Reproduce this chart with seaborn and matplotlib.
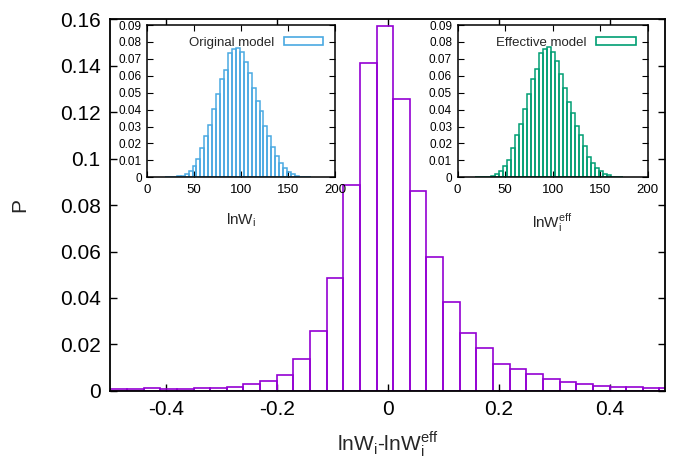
import numpy as np
import pandas as pd
import matplotlib
matplotlib.use("Agg")
import matplotlib.pyplot as plt
from matplotlib.patches import Patch
from matplotlib.ticker import FuncFormatter
import seaborn as sns

# main histogram: lnW_i - lnW_i^eff, bins of width 0.03 from -0.5
diff_edges = np.linspace(-0.5, 0.52, 35)
diff_p = [0.0007, 0.0007, 0.0010, 0.0007, 0.0009, 0.0010, 0.0013, 0.0017, 0.0029, 0.0040,
          0.0069, 0.0135, 0.0257, 0.0484, 0.0885, 0.1411, 0.1570, 0.1257, 0.0860, 0.0575,
          0.0382, 0.0250, 0.0184, 0.0116, 0.0092, 0.0071, 0.0050, 0.0039, 0.0028, 0.0021,
          0.0018, 0.0015, 0.0014, 0.0011]

# insets: lnW_i and lnW_i^eff
lnw_edges = np.linspace(18.8, 174.2, 38)
orig_p = [0.0001, 0.0002, 0.0004, 0.0005, 0.0008, 0.0022, 0.0038, 0.0069, 0.0109, 0.0174,
          0.0246, 0.0311, 0.0404, 0.0491, 0.0582, 0.0634, 0.0737, 0.0756, 0.0762, 0.0740,
          0.0679, 0.0619, 0.0526, 0.0452, 0.0393, 0.0302, 0.0242, 0.0179, 0.0125, 0.0083,
          0.0056, 0.0030, 0.0020, 0.0010, 0.0004, 0.0002, 0.0001]
eff_p = [0.0001, 0.0001, 0.0002, 0.0004, 0.0010, 0.0022, 0.0038, 0.0069, 0.0105, 0.0175,
         0.0248, 0.0313, 0.0401, 0.0492, 0.0579, 0.0641, 0.0734, 0.0758, 0.0770, 0.0740,
         0.0685, 0.0611, 0.0526, 0.0446, 0.0381, 0.0302, 0.0248, 0.0183, 0.0123, 0.0083,
         0.0058, 0.0036, 0.0020, 0.0012, 0.0004, 0.0002, 0.0001]

main_xticks = [-0.4, -0.2, 0, 0.2, 0.4]
main_yticks = [0, 0.02, 0.04, 0.06, 0.08, 0.1, 0.12, 0.14, 0.16]
inset_xticks = [0, 50, 100, 150, 200]
inset_yticks = [0, 0.01, 0.02, 0.03, 0.04, 0.05, 0.06, 0.07, 0.08, 0.09]

PURPLE = '#9400d3'
BLUE = '#4aa9e2'
GREEN = '#009e73'


def hist_frame(edges, values):
    mids = (edges[:-1] + edges[1:]) / 2
    return pd.DataFrame({'x': mids, 'p': values})


sns.set_style("ticks")
plt.rcParams['font.family'] = ['Liberation Sans', 'DejaVu Sans']
plt.rcParams['axes.unicode_minus'] = False
plt.rcParams['mathtext.fontset'] = 'custom'
plt.rcParams['mathtext.rm'] = 'Liberation Sans'

fmt = FuncFormatter(lambda v, p: f'{v:g}')

fig = plt.figure(figsize=(6.81, 4.63), dpi=100)

# main panel
ax = fig.add_axes([0.162, 0.156, 0.8145, 0.802])
sns.histplot(data=hist_frame(diff_edges, diff_p), x='x', weights='p',
             bins=list(diff_edges), fill=False, color=PURPLE, linewidth=1.2, ax=ax)
ax.set_xlim(-0.5, 0.5)
ax.set_ylim(0, 0.16)
ax.set_xticks(main_xticks)
ax.set_yticks(main_yticks)
ax.xaxis.set_major_formatter(fmt)
ax.yaxis.set_major_formatter(fmt)
ax.tick_params(direction='in', top=True, right=True, length=5, width=1,
               labelsize=15, pad=7, colors='black')
for s in ax.spines.values():
    s.set_visible(True)
    s.set_linewidth(1.3)
    s.set_color('black')
ax.set_xlabel('lnW$_\\mathregular{i}$-lnW$_\\mathregular{i}^\\mathregular{eff}$',
              fontsize=15, labelpad=7)
ax.set_ylabel('P', fontsize=15, labelpad=22)


def inset(rect, values, color, label, xlabel):
    a = fig.add_axes(rect)
    a.set_facecolor('white')
    sns.histplot(data=hist_frame(lnw_edges, values), x='x', weights='p',
                 bins=list(lnw_edges), fill=False, color=color, linewidth=1.1, ax=a)
    a.set_xlim(0, 200)
    a.set_ylim(0, 0.09)
    a.set_xticks(inset_xticks)
    a.set_yticks(inset_yticks)
    a.xaxis.set_major_formatter(fmt)
    a.yaxis.set_major_formatter(fmt)
    a.tick_params(direction='in', top=True, right=True, length=4, width=0.8,
                  labelsize=9.5, pad=5, colors='black')
    a.tick_params(axis='y', labelsize=8.5, pad=4)
    for s in a.spines.values():
        s.set_visible(True)
        s.set_linewidth(1.1)
        s.set_color('black')
    a.set_xlabel(xlabel, fontsize=11, labelpad=11)
    a.set_ylabel('')
    handle = Patch(facecolor='none', edgecolor=color, linewidth=1.2, label=label)
    a.legend(handles=[handle], loc='upper right', markerfirst=False, frameon=False,
             fontsize=9.5, handlelength=3.0, handleheight=0.55, handletextpad=0.7,
             borderaxespad=0.7, borderpad=0.2)
    return a


inset([0.2163, 0.617, 0.2756, 0.329], orig_p, BLUE, 'Original model',
      'lnW$_\\mathregular{i}$')
inset([0.672, 0.617, 0.279, 0.329], eff_p, GREEN, 'Effective model',
      'lnW$_\\mathregular{i}^\\mathregular{eff}$')

fig.savefig('out.png', dpi=100)
